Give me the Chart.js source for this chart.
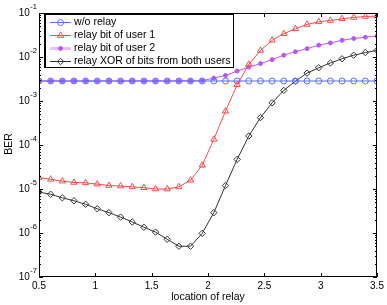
<!DOCTYPE html>
<html>
<head>
<meta charset="utf-8">
<script src="https://cdn.jsdelivr.net/npm/chart.js@4/dist/chart.umd.min.js"></script>
<style>
  html, body { margin: 0; padding: 0; background: #fff; }
  #wrap { width: 387px; height: 305px; }
</style>
</head>
<body>
<div id="wrap"><canvas id="ber-chart" width="387" height="305"></canvas></div>
<script>
// relay positions (30 points from 0.5 to 3.5)
const locations = [
  0.5, 0.6034, 0.7069, 0.8103, 0.9138, 1.0172, 1.1207, 1.2241, 1.3276, 1.4310,
  1.5345, 1.6379, 1.7414, 1.8448, 1.9483, 2.0517, 2.1552, 2.2586, 2.3621, 2.4655,
  2.5690, 2.6724, 2.7759, 2.8793, 2.9828, 3.0862, 3.1897, 3.2931, 3.3966, 3.5,
];

const berNoRelay = [
  2.85e-3, 2.85e-3, 2.85e-3, 2.85e-3, 2.85e-3, 2.85e-3, 2.85e-3, 2.85e-3, 2.85e-3, 2.85e-3,
  2.85e-3, 2.85e-3, 2.85e-3, 2.85e-3, 2.85e-3, 2.85e-3, 2.85e-3, 2.85e-3, 2.85e-3, 2.85e-3,
  2.85e-3, 2.85e-3, 2.85e-3, 2.85e-3, 2.85e-3, 2.85e-3, 2.85e-3, 2.85e-3, 2.85e-3, 2.85e-3,
];

const berUser1 = [
  1.82e-5, 1.66e-5, 1.51e-5, 1.41e-5, 1.38e-5, 1.29e-5, 1.20e-5, 1.17e-5, 1.12e-5, 1.07e-5,
  1.0e-5, 1.0e-5, 1.12e-5, 1.58e-5, 3.47e-5, 1.35e-4, 5.89e-4, 2.34e-3, 6.76e-3, 1.41e-2,
  2.40e-2, 3.39e-2, 4.37e-2, 5.50e-2, 6.31e-2, 6.76e-2, 7.41e-2, 7.94e-2, 8.32e-2, 8.51e-2,
];

const berUser2 = [
  2.85e-3, 2.85e-3, 2.85e-3, 2.85e-3, 2.85e-3, 2.85e-3, 2.85e-3, 2.85e-3, 2.85e-3, 2.85e-3,
  2.85e-3, 2.85e-3, 2.86e-3, 2.87e-3, 2.9e-3, 3.31e-3, 3.80e-3, 4.79e-3, 5.89e-3, 7.08e-3,
  8.71e-3, 1.10e-2, 1.32e-2, 1.55e-2, 1.86e-2, 2.09e-2, 2.40e-2, 2.63e-2, 2.82e-2, 3.02e-2,
];

const berXor = [
  8.5e-6, 7.6e-6, 6.3e-6, 5.4e-6, 4.5e-6, 3.55e-6, 2.9e-6, 2.3e-6, 1.78e-6, 1.35e-6,
  1.05e-6, 7.2e-7, 5.0e-7, 5.0e-7, 9.8e-7, 2.9e-6, 1.2e-5, 4.7e-5, 1.6e-4, 4.2e-4,
  9.1e-4, 1.74e-3, 2.82e-3, 4.3e-3, 5.7e-3, 7.3e-3, 9.1e-3, 1.1e-2, 1.26e-2, 1.41e-2,
];

const seriesNames = [
  'w/o relay',
  'relay bit of user 1',
  'relay bit of user 2',
  'relay XOR of bits from both users',
];

const xTicks = [0.5, 1, 1.5, 2, 2.5, 3, 3.5];
const yTickExps = [-7, -6, -5, -4, -3, -2, -1];

const FONT = '"Liberation Sans", Arial, sans-serif';

const toPoints = (ys) => ys.map((y, i) => ({ x: locations[i], y }));

const makeSet = (label, data, color, style, extra = {}) => ({
  label,
  data: toPoints(data),
  borderColor: color,
  backgroundColor: 'rgba(0,0,0,0)',
  borderWidth: 1,
  pointStyle: style,
  pointRadius: 3,
  pointBorderWidth: 1,
  pointBorderColor: color,
  pointBackgroundColor: 'rgba(0,0,0,0)',
  tension: 0,
  ...extra,
});

const datasets = [
  makeSet(seriesNames[0], berNoRelay, '#5a6dff', 'circle'),
  makeSet(seriesNames[1], berUser1, '#ff4a4a', 'triangle', { pointRadius: 3.6 }),
  makeSet(seriesNames[2], berUser2, '#b957ff', 'circle', { pointRadius: 2, pointBackgroundColor: '#b957ff' }),
  makeSet(seriesNames[3], berXor, '#333333', 'rectRot', { pointRadius: 3.2 }),
];

const drawSup = (ctx, base, exp, right, y) => {
  ctx.font = `7.5px ${FONT}`;
  const wExp = ctx.measureText(exp).width;
  ctx.textAlign = 'left';
  ctx.textBaseline = 'middle';
  ctx.fillText(exp, right - wExp, y - 6);
  ctx.font = `10px ${FONT}`;
  const wBase = ctx.measureText(base).width;
  ctx.fillText(base, right - wExp - wBase - 0.5, y);
};

const axesPlugin = {
  id: 'matlabAxes',
  afterDatasetsDraw(chart) {
    const { ctx, chartArea: a, scales } = chart;
    const xs = scales.x;
    const ys = scales.y;
    ctx.save();
    ctx.strokeStyle = '#000';
    ctx.lineWidth = 1;
    ctx.fillStyle = '#000';

    // box
    ctx.strokeRect(Math.round(a.left) + 0.5, Math.round(a.top) + 0.5, Math.round(a.right - a.left) - 1, Math.round(a.bottom - a.top) - 1);

    // x ticks, inward top and bottom
    ctx.beginPath();
    xTicks.forEach((v) => {
      const px = Math.round(xs.getPixelForValue(v)) + 0.5;
      ctx.moveTo(px, a.bottom);
      ctx.lineTo(px, a.bottom - 4);
      ctx.moveTo(px, a.top);
      ctx.lineTo(px, a.top + 4);
    });
    // y ticks, major and minor
    yTickExps.forEach((e) => {
      const py = Math.round(ys.getPixelForValue(10 ** e)) + 0.5;
      ctx.moveTo(a.left, py);
      ctx.lineTo(a.left + 4, py);
      ctx.moveTo(a.right, py);
      ctx.lineTo(a.right - 4, py);
      if (e < -1) {
        for (let m = 2; m <= 9; m += 1) {
          const pm = Math.round(ys.getPixelForValue(m * 10 ** e)) + 0.5;
          ctx.moveTo(a.left, pm);
          ctx.lineTo(a.left + 2, pm);
          ctx.moveTo(a.right, pm);
          ctx.lineTo(a.right - 2, pm);
        }
      }
    });
    ctx.stroke();

    // tick labels
    ctx.font = `10px ${FONT}`;
    ctx.textAlign = 'center';
    ctx.textBaseline = 'alphabetic';
    xTicks.forEach((v) => {
      ctx.fillText(String(v), xs.getPixelForValue(v), a.bottom + 12);
    });
    yTickExps.forEach((e) => {
      drawSup(ctx, '10', String(e), a.left - 2, ys.getPixelForValue(10 ** e));
    });

    // axis titles
    ctx.font = `10.5px ${FONT}`;
    ctx.textAlign = 'center';
    ctx.textBaseline = 'alphabetic';
    ctx.fillText('location of relay', (a.left + a.right) / 2, a.bottom + 23);
    ctx.save();
    ctx.translate(12, (a.top + a.bottom) / 2 - 1);
    ctx.rotate(-Math.PI / 2);
    ctx.fillText('BER', 0, 0);
    ctx.restore();

    // legend box
    const lx = 45;
    const ly = 14;
    const lw = 188;
    const lh = 53;
    ctx.fillStyle = '#fff';
    ctx.fillRect(lx, ly, lw, lh);
    ctx.strokeStyle = '#000';
    ctx.strokeRect(lx + 0.5, ly + 0.5, lw, lh);
    ctx.beginPath();
    ctx.moveTo(lx - 0.5, ly);
    ctx.lineTo(lx - 0.5, ly + lh + 1);
    ctx.stroke();

    ctx.textAlign = 'left';
    ctx.textBaseline = 'middle';
    chart.data.datasets.forEach((ds, i) => {
      const cy = ly + 7.5 + i * 13.1;
      const py = Math.round(cy) + 0.5;
      ctx.beginPath();
      if (i === 2) {
        ctx.strokeStyle = 'rgba(200,120,255,0.45)';
        ctx.lineWidth = 3;
      } else {
        ctx.strokeStyle = ds.borderColor;
        ctx.lineWidth = 1;
      }
      ctx.moveTo(50, py);
      ctx.lineTo(71, py);
      ctx.stroke();
      ctx.strokeStyle = ds.pointBorderColor;
      ctx.fillStyle = ds.pointBackgroundColor;
      ctx.lineWidth = 1;
      Chart.helpers.drawPoint(ctx, {
        pointStyle: ds.pointStyle,
        radius: ds.pointRadius,
        borderWidth: 1,
        rotation: 0,
      }, 60.5, py);
      ctx.fillStyle = '#000';
      ctx.font = `10.6px ${FONT}`;
      ctx.fillText(ds.label, 74, cy + 0.5);
    });
    ctx.restore();
  },
};

const init = () => {
  const ctx = document.getElementById('ber-chart');
  // eslint-disable-next-line no-new
  new Chart(ctx, {
    type: 'line',
    data: { datasets },
    options: {
      responsive: false,
      animation: false,
      layout: { padding: { left: 39, right: 10, top: 13, bottom: 28 } },
      scales: {
        x: { type: 'linear', min: 0.5, max: 3.5, display: false },
        y: { type: 'logarithmic', min: 1e-7, max: 1e-1, display: false },
      },
      plugins: {
        legend: { display: false },
        tooltip: { enabled: false },
      },
    },
    plugins: [axesPlugin],
  });
};

document.addEventListener('DOMContentLoaded', init);
</script>
</body>
</html>
